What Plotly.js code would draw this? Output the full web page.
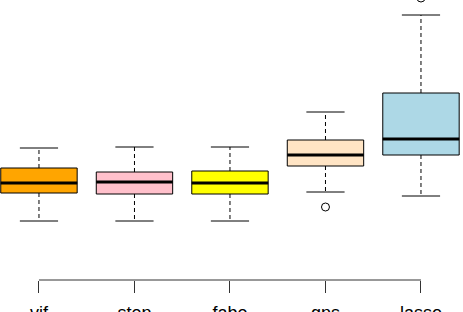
<!DOCTYPE html>
<html>
<head>
<meta charset="utf-8">
<script src="https://cdn.plot.ly/plotly-3.0.1.min.js"></script>
<style>html,body{margin:0;padding:0;background:#fff;}#chart{width:463px;height:312px;}</style>
</head>
<body>
<div id="chart"></div>
<script>
// Data (arbitrary y units)
const categories = ["vif", "step", "fabe", "gps", "lasso"];
const positions  = [1, 2, 3, 4, 5];
const lowerWhisker = [0.79, 0.79, 0.79, 1.08, 1.04];
const q1Values     = [1.07, 1.06, 1.06, 1.34, 1.45];
const medians      = [1.17, 1.18, 1.17, 1.45, 1.61];
const q3Values     = [1.32, 1.28, 1.29, 1.60, 2.07];
const upperWhisker = [1.52, 1.53, 1.53, 1.88, 2.85];
const outlierCat   = [4, 5];
const outlierVals  = [0.93, 3.02];
const fillColors   = ["#FFA500", "#FFC0CB", "#FFFF00", "#FFE4C4", "#ADD8E6"];

const BOXW = 0.8, CAPW = 0.4;
const traces = [];

positions.forEach((p, i) => {
  traces.push({
    type: "box", x: [p], q1: [q1Values[i]], median: [medians[i]], q3: [q3Values[i]],
    lowerfence: [q1Values[i]], upperfence: [q3Values[i]],
    width: BOXW, whiskerwidth: 0, fillcolor: fillColors[i],
    line: {color: "#000", width: 1}, boxpoints: false, hoverinfo: "skip"
  });
  traces.push({
    type: "scatter", mode: "lines",
    x: [p, p, null, p, p],
    y: [q3Values[i], upperWhisker[i], null, q1Values[i], lowerWhisker[i]],
    line: {color: "#000", width: 1, dash: "4px,3px"}, hoverinfo: "skip"
  });
  traces.push({
    type: "scatter", mode: "lines",
    x: [p - CAPW / 2, p + CAPW / 2, null, p - CAPW / 2, p + CAPW / 2],
    y: [upperWhisker[i], upperWhisker[i], null, lowerWhisker[i], lowerWhisker[i]],
    line: {color: "#000", width: 1}, hoverinfo: "skip"
  });
  traces.push({
    type: "scatter", mode: "lines",
    x: [p - BOXW / 2, p + BOXW / 2], y: [medians[i], medians[i]],
    line: {color: "#000", width: 3}, hoverinfo: "skip"
  });
});

traces.push({
  type: "scatter", mode: "markers", x: outlierCat, y: outlierVals,
  marker: {symbol: "circle-open", size: 8, color: "#000", line: {width: 1}},
  hoverinfo: "skip"
});

const layout = {
  width: 463, height: 312,
  margin: {l: 0, r: 0, t: 0, b: 32, pad: 0},
  paper_bgcolor: "#fff", plot_bgcolor: "#fff",
  showlegend: false,
  xaxis: {
    range: [0.592, 5.44], tickvals: positions, ticktext: categories,
    ticks: "outside", ticklen: 12, tickwidth: 1, tickcolor: "#333",
    ticklabelstandoff: 4,
    showgrid: false, zeroline: false, showline: false,
    tickfont: {family: "Liberation Sans, Arial, sans-serif", size: 18, color: "#000"}
  },
  yaxis: {range: [0.20, 3.00], visible: false, showgrid: false, zeroline: false},
  shapes: [{
    type: "line", xref: "x", yref: "paper",
    x0: positions[0], x1: positions[positions.length - 1], y0: 0, y1: 0,
    line: {color: "#333", width: 1}
  }]
};

Plotly.newPlot("chart", traces, layout, {staticPlot: true, displayModeBar: false});
</script>
</body>
</html>
